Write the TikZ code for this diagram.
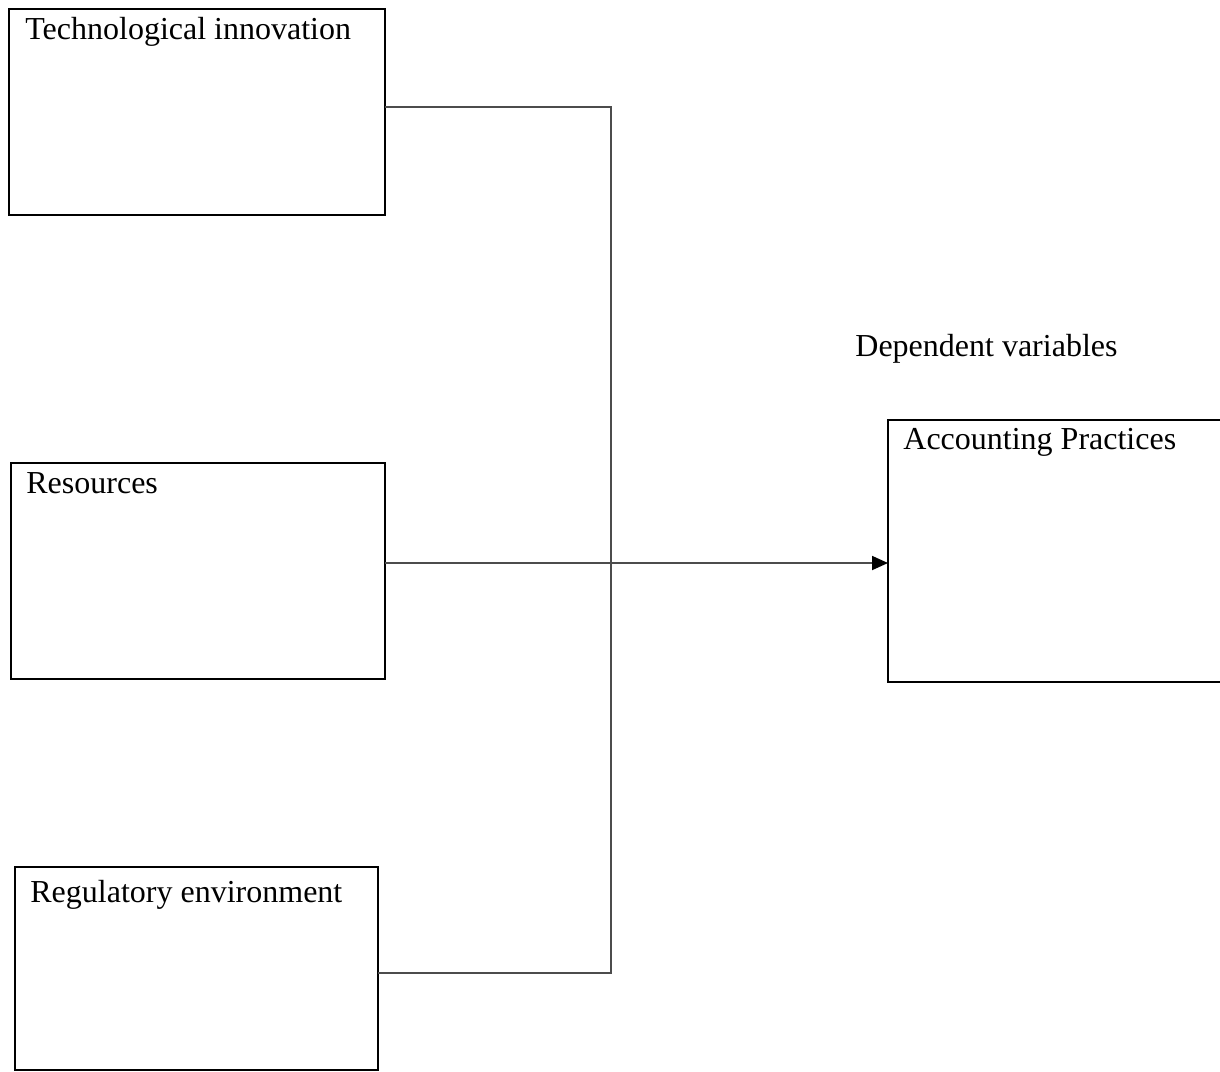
\documentclass[tikz,border=0pt]{standalone}
\usepackage{fontspec}
\setmainfont{Liberation Serif}
\usetikzlibrary{arrows.meta}
\begin{document}
\begin{tikzpicture}[x=0.5pt,y=-0.5pt,
  box/.style={draw=black,line width=1.4pt,rectangle,inner sep=0pt,outer sep=0pt},
  conn/.style={draw=black!70,line width=0.9pt},
  lbl/.style={anchor=base west,inner sep=0pt,font=\fontsize{16}{19}\selectfont}]
\useasboundingbox (0,0) rectangle (1220,1071);
\node[box,minimum width=188pt,minimum height=103pt] (tech) at (197,112) {};
\node[box,minimum width=187pt,minimum height=108pt] (res) at (198,571) {};
\node[box,minimum width=168.5pt,minimum height=131pt] (acc) at (1056.5,551) {};
\node[box,minimum width=181.5pt,minimum height=101.5pt] (reg) at (196.5,968.5) {};
\node[lbl] (ttech) at (25,39) {Technological innovation};
\node[lbl] (tres) at (26,493) {Resources};
\node[lbl] (tacc) at (903,449) {Accounting Practices};
\node[lbl] (tdep) at (855,356) {Dependent variables};
\node[lbl] (treg) at (30,902) {Regulatory environment};
\coordinate (j1) at (611,107);
\coordinate (j2) at (611,563);
\coordinate (j3) at (611,973);
\draw[conn] (tech.east |- j1) -- (j1) -- (j3) -- (reg.east |- j3);
\draw[conn,-{Triangle[length=8pt,width=7pt,color=black]}] (res.east |- j2) -- (acc.west |- j2);
\end{tikzpicture}
\end{document}
